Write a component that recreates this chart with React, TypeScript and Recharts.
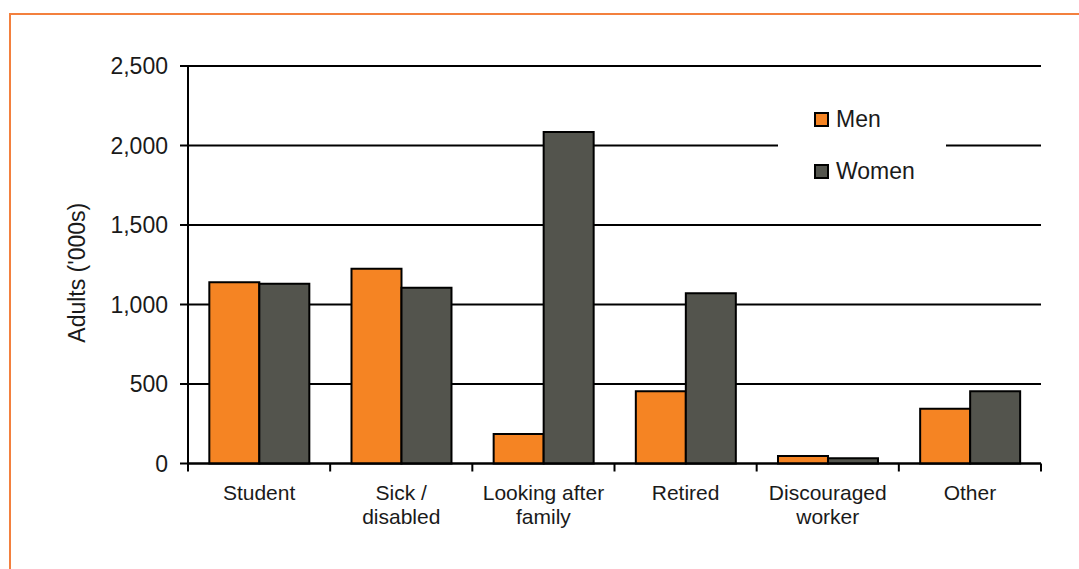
import React from "react"
import { BarChart, Bar, XAxis, YAxis, CartesianGrid, Legend } from "recharts"

const categories = ["Student", "Sick /\ndisabled", "Looking after\nfamily", "Retired", "Discouraged\nworker", "Other"]
const menValues = [1140, 1225, 185, 455, 47, 345]
const womenValues = [1130, 1105, 2085, 1070, 33, 455]
const yTicks = [0, 500, 1000, 1500, 2000, 2500]

const data = categories.map((c, i) => ({ name: c, men: menValues[i], women: womenValues[i] }))

const FONT = "'Liberation Sans', Arial, Helvetica, sans-serif"
const ORANGE = "#F58423"
const GREY = "#53544D"
const INK = "#1a1a1a"

// category labels sit between boundary tick marks, so the marks are drawn here too
const CategoryTick = (props: any) => {
  const { x, y, payload, index } = props
  const half = payload.offset || 0
  const lines = String(payload.value).split("\n")
  return (
    <g>
      <line x1={x - half} x2={x - half} y1={y} y2={y + 8} stroke="#000" strokeWidth={2} />
      {index === categories.length - 1 && (
        <line x1={x + half} x2={x + half} y1={y} y2={y + 8} stroke="#000" strokeWidth={2} />
      )}
      <text x={x} y={y} textAnchor="middle" fontSize={21} fontFamily={FONT} fill={INK}>
        {lines.map((l, i) => (
          <tspan key={i} x={x} y={y + 36 + i * 24}>{l}</tspan>
        ))}
      </text>
    </g>
  )
}

const AxisTitle = (props: any) => {
  const { viewBox } = props
  const cx = viewBox.x + 77
  const cy = viewBox.y + viewBox.height / 2 + 8
  return (
    <text x={cx} y={cy} transform={`rotate(-90, ${cx}, ${cy})`} textAnchor="middle" dominantBaseline="central"
      fontSize={23} fontFamily={FONT} fill={INK}>
      Adults ('000s)
    </text>
  )
}

const LegendBox = (props: any) => {
  const items = props.payload || []
  return (
    <div style={{ position: "relative", width: 168, height: 100, background: "#fff" }}>
      {items.map((it: any, i: number) => (
        <div key={it.value} style={{ position: "absolute", left: 36, top: 17 + i * 52, display: "flex", alignItems: "center" }}>
          <span style={{ width: 11, height: 11, background: it.color, border: "2px solid #000", display: "inline-block" }} />
          <span style={{ marginLeft: 7, fontSize: 23, fontFamily: FONT, color: INK, lineHeight: "15px" }}>{it.value}</span>
        </div>
      ))}
    </div>
  )
}

export default function App() {
  return (
    <div style={{ position: "absolute", left: 0, top: 0, width: 1079, height: 569, background: "#fff", overflow: "hidden" }}>
      <div style={{ position: "absolute", left: 9, top: 13, right: -4, bottom: -4, borderTop: "2px solid #F3803E", borderLeft: "2px solid #F3803E" }} />
      <BarChart width={1079} height={569} data={data} margin={{ top: 66, right: 38, bottom: 75.5, left: 0 }}
        barGap={0} barCategoryGap="15%" style={{ position: "absolute", left: 0, top: 0 }}>
        <CartesianGrid vertical={false} stroke="#000" strokeWidth={2} />
        <XAxis dataKey="name" interval={0} tick={<CategoryTick />} tickLine={false} tickSize={0} tickMargin={0}
          height={30} axisLine={{ stroke: "#000", strokeWidth: 2 }} />
        <YAxis width={188} domain={[0, 2500]} ticks={yTicks} interval={0} tickSize={8} tickMargin={12}
          tickFormatter={(v: number) => v.toLocaleString("en-US")}
          tick={{ fontSize: 23, fontFamily: FONT, fill: INK }}
          tickLine={{ stroke: "#000", strokeWidth: 2 }} axisLine={{ stroke: "#000", strokeWidth: 2 }}
          label={<AxisTitle />} />
        <Legend layout="vertical" align="center" verticalAlign="middle" content={<LegendBox />}
          wrapperStyle={{ left: 778, top: 95, width: 168, height: 100 }} />
        <Bar dataKey="men" name="Men" fill={ORANGE} stroke="#000" strokeWidth={2} isAnimationActive={false} />
        <Bar dataKey="women" name="Women" fill={GREY} stroke="#000" strokeWidth={2} isAnimationActive={false} />
      </BarChart>
    </div>
  )
}
